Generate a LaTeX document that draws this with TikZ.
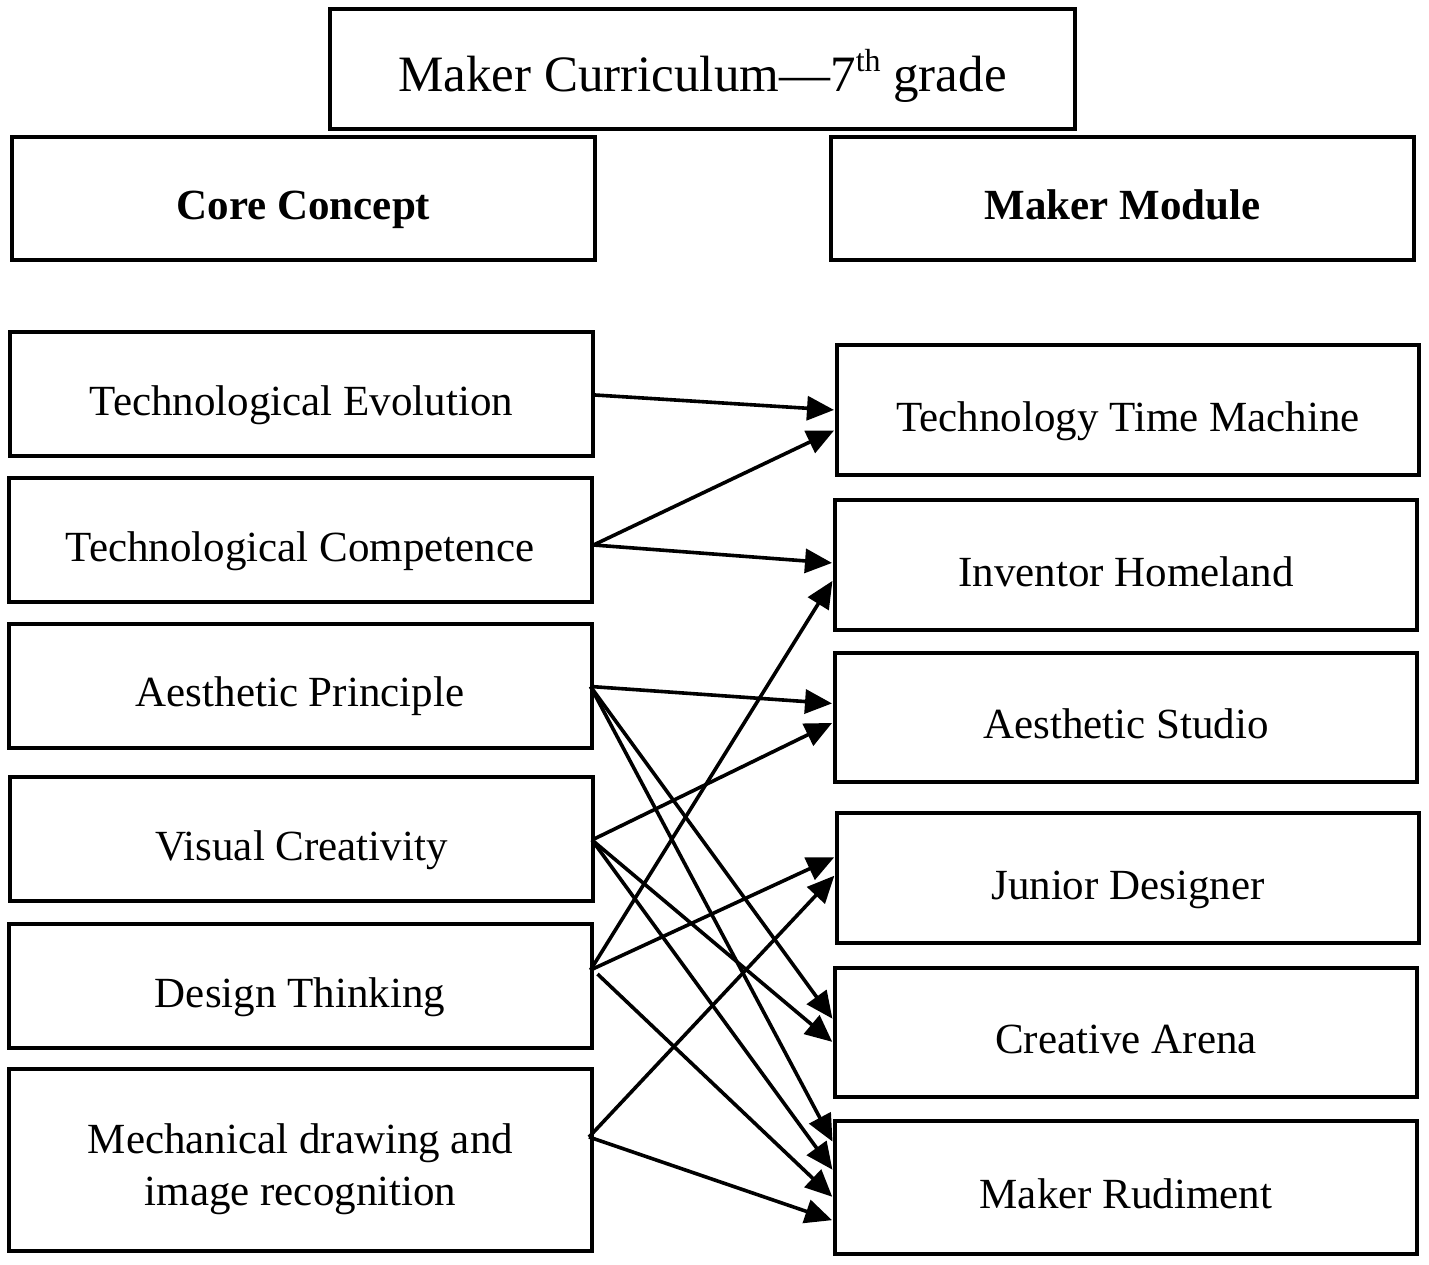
\documentclass[tikz,border=0pt]{standalone}
\usepackage{fontspec}
\setmainfont{Liberation Serif}
\usetikzlibrary{arrows.meta,calc}
\begin{document}
\begin{tikzpicture}[x=1pt,y=-1pt,
  box/.style={draw=black,line width=4pt,rectangle,inner sep=0pt,align=center,
    font=\fontsize{43}{50}\selectfont,text height=42pt,text depth=0pt},
  lbox/.style={box,minimum width=583pt,minimum height=124pt},
  rbox/.style={box,minimum width=582pt,minimum height=130pt},
  txt/.style={inner sep=0pt,anchor=base,font=\fontsize{43}{50}\selectfont},
  link/.style={line width=3.6pt,-{Triangle[length=27pt,width=24pt]},shorten >=1pt}]
\useasboundingbox (0,0) rectangle (1429,1265);
\node[box,minimum width=745pt,minimum height=120pt,font=\fontsize{51}{58}\selectfont,text height=46pt] (title) at (702.5,69) {Maker Curriculum---7\raisebox{20pt}{\fontsize{32}{32}\selectfont th} grade};
\node[box,minimum width=583pt,minimum height=123pt,font=\fontsize{43}{50}\selectfont\bfseries] (cc) at (303.5,198.5) {Core Concept};
\node[box,minimum width=583pt,minimum height=123pt,font=\fontsize{43}{50}\selectfont\bfseries] (mm) at (1122.5,198.5) {Maker Module};
% left column
\node[lbox] (te) at (301.5,394) {Technological Evolution};
\node[lbox] (tc) at (300,540) {Technological Competence};
\node[lbox] (ap) at (300,685.5) {Aesthetic Principle};
\node[lbox] (vc) at (301.5,839) {Visual Creativity};
\node[lbox] (dt) at (300,986) {Design Thinking};
\node[lbox,minimum height=182pt] (md) at (300.5,1160) {};
\node[txt] (mda) at (300.5,1153) {Mechanical drawing and};
\node[txt] (mdb) at (300.5,1205) {image recognition};
% right column
\node[rbox] (ttm) at (1128,410) {Technology Time Machine};
\node[rbox] (ih) at (1126,565) {Inventor Homeland};
\node[rbox,minimum height=129pt] (as) at (1126,717.5) {Aesthetic Studio};
\node[rbox] (jd) at (1128,878) {Junior Designer};
\node[rbox,minimum height=129pt] (ca) at (1126,1032.5) {Creative Arena};
\node[rbox,minimum height=133pt] (mr) at (1126,1187.5) {Maker Rudiment};
% connectors
\draw[link] ($(te.east)+(0,1)$) -- ($(ttm.west)+(0,0)$);
\draw[link] ($(tc.east)+(0,5)$) -- ($(ttm.west)+(0,20)$);
\draw[link] ($(tc.east)+(0,5)$) -- ($(ih.west)+(0,-2)$);
\draw[link] ($(dt.east)+(-3,-16)$) -- ($(ih.west)+(0,15)$);
\draw[link] ($(ap.east)+(-3,1)$) -- ($(as.west)+(0,-14)$);
\draw[link] ($(vc.east)+(-3,1)$) -- ($(as.west)+(0,5)$);
\draw[link] ($(dt.east)+(-3,-16)$) -- ($(jd.west)+(0,-21)$);
\draw[link] ($(md.east)+(-5,-23)$) -- ($(jd.west)+(0,-3)$);
\draw[link] ($(ap.east)+(-3,1)$) -- ($(ca.west)+(0,-13)$);
\draw[link] ($(vc.east)+(-3,1)$) -- ($(ca.west)+(0,10)$);
\draw[link] ($(ap.east)+(-3,1)$) -- ($(mr.west)+(0,-45)$);
\draw[link] ($(vc.east)+(-3,1)$) -- ($(mr.west)+(0,-17)$);
\draw[link] ($(dt.east)+(4,-12)$) -- ($(mr.west)+(0,10)$);
\draw[link] ($(md.east)+(-5,-23)$) -- ($(mr.west)+(0,33)$);
\end{tikzpicture}
\end{document}
